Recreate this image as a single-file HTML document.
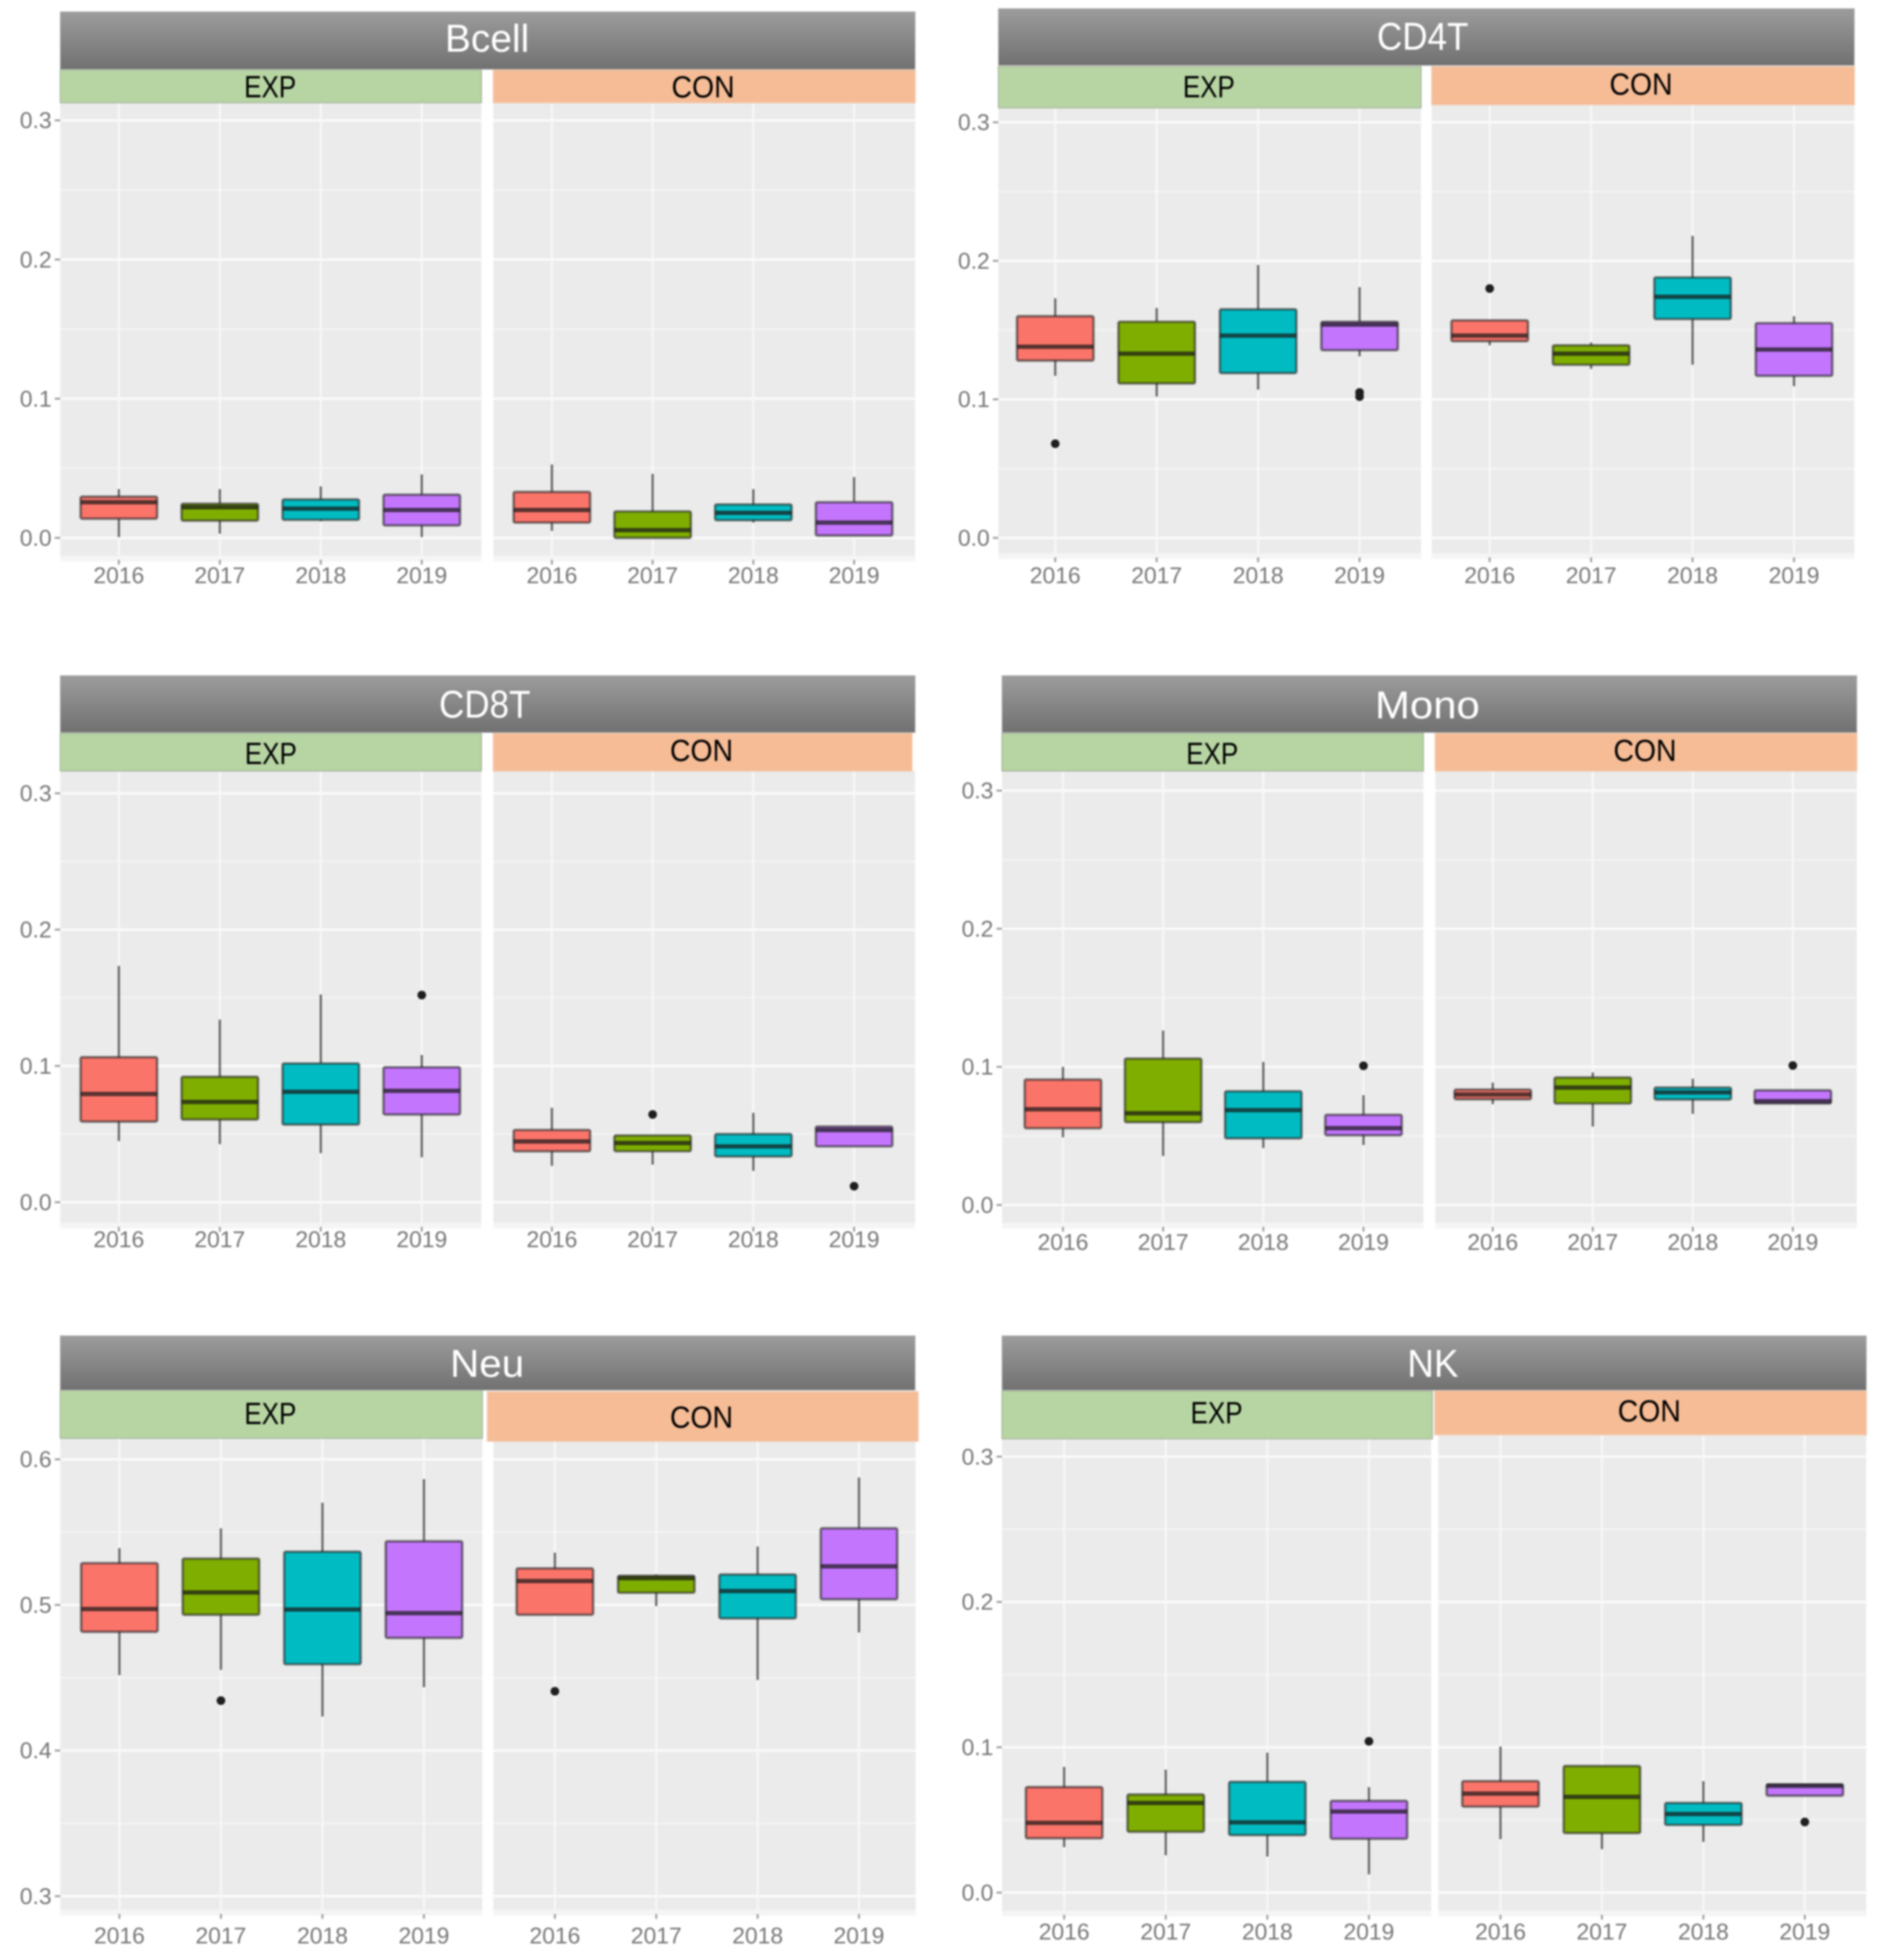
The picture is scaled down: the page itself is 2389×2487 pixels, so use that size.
<!DOCTYPE html>
<html lang="en">
<head>
<meta charset="utf-8">
<title>Cell type proportion boxplots by year and group</title>
<style>
  html, body { margin: 0; padding: 0; background: #fff; }
  #chart-root { display: block; width: 2389px; height: 2487px; filter: blur(1.15px); font-family: "Liberation Sans", sans-serif; }
</style>
</head>
<body>
<svg id="chart-root" xmlns="http://www.w3.org/2000/svg" width="2389" height="2487" viewBox="0 0 2389 2487">
  <defs>
    <linearGradient id="title-gradient" x1="0" y1="0" x2="0" y2="1">
      <stop offset="0" stop-color="#9c9c9c"/>
      <stop offset="1" stop-color="#717171"/>
    </linearGradient>
  </defs>
</svg>
<script>
const years = ['2016', '2017', '2018', '2019'];
const smallTickValues = [0, 0.1, 0.2, 0.3];
const smallTickLabels = ['0.0', '0.1', '0.2', '0.3'];
const neuTickValues = [0.3, 0.4, 0.5, 0.6];
const neuTickLabels = ['0.3', '0.4', '0.5', '0.6'];
const fillColors = ['#fb746a', '#7fae00', '#00bcc2', '#c376fd'];

const bcellExpHigh = [0.035, 0.035, 0.037, 0.0456];
const bcellExpQ3 = [0.0296, 0.0245, 0.0276, 0.031];
const bcellExpMedian = [0.0256, 0.022, 0.021, 0.020];
const bcellExpQ1 = [0.0138, 0.0124, 0.013, 0.009];
const bcellExpLow = [0.0006, 0.003, 0.012, 0.0006];
const bcellExpOutliers = [[], [], [], []];
const bcellConHigh = [0.0527, 0.046, 0.035, 0.0437];
const bcellConQ3 = [0.033, 0.019, 0.024, 0.0256];
const bcellConMedian = [0.020, 0.0056, 0.018, 0.011];
const bcellConQ1 = [0.011, 0, 0.0127, 0.0017];
const bcellConLow = [0.005, 0, 0.011, 0.0017];
const bcellConOutliers = [[], [], [], []];

const cd4tExpHigh = [0.173, 0.166, 0.197, 0.181];
const cd4tExpQ3 = [0.160, 0.156, 0.165, 0.156];
const cd4tExpMedian = [0.138, 0.133, 0.146, 0.154];
const cd4tExpQ1 = [0.128, 0.1115, 0.119, 0.1355];
const cd4tExpLow = [0.117, 0.102, 0.107, 0.131];
const cd4tExpOutliers = [[0.068], [], [], [0.105, 0.102]];
const cd4tConHigh = [0.157, 0.141, 0.218, 0.160];
const cd4tConQ3 = [0.157, 0.139, 0.188, 0.155];
const cd4tConMedian = [0.146, 0.133, 0.174, 0.136];
const cd4tConQ1 = [0.142, 0.125, 0.158, 0.117];
const cd4tConLow = [0.139, 0.122, 0.125, 0.1095];
const cd4tConOutliers = [[0.18], [], [], []];

const cd8tExpHigh = [0.1734, 0.134, 0.1524, 0.108];
const cd8tExpQ3 = [0.1064, 0.092, 0.1018, 0.099];
const cd8tExpMedian = [0.0794, 0.0736, 0.081, 0.0817];
const cd8tExpQ1 = [0.0592, 0.0607, 0.057, 0.0644];
const cd8tExpLow = [0.0449, 0.0426, 0.036, 0.033];
const cd8tExpOutliers = [[], [], [], [0.152]];
const cd8tConHigh = [0.0693, 0.049, 0.0656, 0.0555];
const cd8tConQ3 = [0.053, 0.049, 0.05, 0.0555];
const cd8tConMedian = [0.0446, 0.0434, 0.041, 0.053];
const cd8tConQ1 = [0.0374, 0.0374, 0.0336, 0.041];
const cd8tConLow = [0.0267, 0.0276, 0.023, 0.041];
const cd8tConOutliers = [[], [0.0644], [], [0.0118]];

const monoExpHigh = [0.1, 0.1263, 0.1036, 0.0795];
const monoExpQ3 = [0.0908, 0.106, 0.0823, 0.0653];
const monoExpMedian = [0.0693, 0.0664, 0.0687, 0.0556];
const monoExpQ1 = [0.0556, 0.06, 0.0483, 0.0505];
const monoExpLow = [0.049, 0.0355, 0.0412, 0.0434];
const monoExpOutliers = [[], [], [], [0.1008]];
const monoConHigh = [0.0886, 0.096, 0.0914, 0.083];
const monoConQ3 = [0.0835, 0.0923, 0.085, 0.083];
const monoConMedian = [0.08, 0.085, 0.0815, 0.0752];
const monoConQ1 = [0.0766, 0.0735, 0.0764, 0.0735];
const monoConLow = [0.073, 0.0568, 0.066, 0.0735];
const monoConOutliers = [[], [], [], [0.101]];

const neuExpHigh = [0.539, 0.5526, 0.5702, 0.5864];
const neuExpQ3 = [0.5287, 0.5318, 0.5365, 0.5437];
const neuExpMedian = [0.4972, 0.5086, 0.4969, 0.4944];
const neuExpQ1 = [0.4816, 0.4933, 0.4593, 0.4774];
const neuExpLow = [0.4518, 0.4554, 0.4234, 0.4435];
const neuExpOutliers = [[], [0.4343], [], []];
const neuConHigh = [0.5359, 0.5209, 0.5401, 0.5875];
const neuConQ3 = [0.5251, 0.52, 0.5209, 0.5526];
const neuConMedian = [0.5164, 0.5184, 0.5095, 0.5265];
const neuConQ1 = [0.4933, 0.5084, 0.4908, 0.5039];
const neuConLow = [0.4933, 0.4992, 0.4485, 0.4811];
const neuConOutliers = [[0.4407], [], [], []];

const nkExpHigh = [0.0865, 0.0846, 0.0963, 0.0726];
const nkExpQ3 = [0.0726, 0.0675, 0.0762, 0.0631];
const nkExpMedian = [0.048, 0.0617, 0.0483, 0.0558];
const nkExpQ1 = [0.0374, 0.0419, 0.0396, 0.0371];
const nkExpLow = [0.0313, 0.0257, 0.0248, 0.0126];
const nkExpOutliers = [[], [], [], [0.1041]];
const nkConHigh = [0.1005, 0.0871, 0.0767, 0.0745];
const nkConQ3 = [0.0767, 0.0871, 0.0617, 0.0745];
const nkConMedian = [0.0681, 0.0659, 0.0541, 0.0734];
const nkConQ1 = [0.0592, 0.041, 0.0466, 0.0667];
const nkConLow = [0.0368, 0.0299, 0.0349, 0.0667];
const nkConOutliers = [[], [], [], [0.0486]];

const SVG_NS = 'http://www.w3.org/2000/svg';
const root = document.getElementById('chart-root');

function make(tag, parent, attrs) {
  const node = document.createElementNS(SVG_NS, tag);
  for (const key in attrs) node.setAttribute(key, attrs[key]);
  parent.appendChild(node);
  return node;
}

function linearScale(v0, p0, v1, p1) {
  return function (v) { return p0 + (v - v0) * (p1 - p0) / (v1 - v0); };
}

function bandScale(first, step) {
  return function (i) { return first + i * step; };
}

function drawTitle(parent, key, text, box) {
  const bar = make('rect', parent, { x: box.x0, y: box.y0, width: box.x1 - box.x0, height: box.y1 - box.y0, fill: 'url(#title-gradient)', stroke: '#b0b0b0', 'stroke-width': 1 });
  
  
  const label = make('text', parent, { x: box.cx, y: box.cy + 17, 'text-anchor': 'middle', 'font-size': 49, fill: '#ffffff', textLength: box.textWidth, lengthAdjust: 'spacingAndGlyphs' });
  label.textContent = text;
  
  
}

function drawGroup(parent, key, groupKey, groupText, fill, border, layout, series, tickValues, tickLabels, yScale) {
  const group = make('g', parent, {});
  
  

  const background = make('rect', group, { x: layout.x0, y: layout.top, width: layout.x1 - layout.x0, height: layout.bottom - layout.top, fill: '#ebebeb' });
  
  

  const edge = make('rect', group, { x: layout.x0, y: layout.bottom, width: layout.x1 - layout.x0, height: 7, fill: '#f5f5f5' });
  
  

  for (let i = 0; i < tickValues.length; i++) {
    const py = yScale(tickValues[i]);
    if (i < tickValues.length - 1) {
      const mid = yScale((tickValues[i] + tickValues[i + 1]) / 2);
      const minor = make('line', group, { x1: layout.x0, x2: layout.x1, y1: mid, y2: mid, stroke: '#f5f5f5', 'stroke-width': 2 });
      
      
    }
    const major = make('line', group, { x1: layout.x0, x2: layout.x1, y1: py, y2: py, stroke: '#fbfbfb', 'stroke-width': 3 });
    
    
  }

  const xScale = bandScale(layout.first, layout.step);
  years.forEach(function (year, i) {
    const px = xScale(i);
    const grid = make('line', group, { x1: px, x2: px, y1: layout.top, y2: layout.bottom, stroke: '#f8f8f8', 'stroke-width': 2.6 });
    
    
    const tick = make('line', group, { x1: px, x2: px, y1: layout.bottom + 5, y2: layout.bottom + 11, stroke: '#a0a0a0', 'stroke-width': 2.5 });
    
    
    const label = make('text', group, { x: px, y: layout.labelY + 10, 'text-anchor': 'middle', 'font-size': 29, fill: '#777777' });
    label.textContent = year;
    
    
  });

  const strip = make('rect', group, { x: layout.stripX0, y: layout.stripY0, width: layout.stripX1 - layout.stripX0, height: layout.stripY1 - layout.stripY0, fill: fill, stroke: border, 'stroke-width': 1.5 });
  
  
  const stripLabel = make('text', group, { x: layout.labelCx, y: layout.labelCy + 14, 'text-anchor': 'middle', 'font-size': 39, fill: '#000000', textLength: groupKey === 'exp' ? 66 : 80, lengthAdjust: 'spacingAndGlyphs' });
  stripLabel.textContent = groupText;
  
  

  years.forEach(function (year, i) {
    const px = xScale(i);
    const halfWidth = 48.5;
    const mark = make('g', group, {});
    
    

    const upper = make('line', mark, { x1: px, x2: px, y1: yScale(series.high[i]), y2: yScale(series.q3[i]), stroke: '#666666', 'stroke-width': 2.8 });
    
    
    const lower = make('line', mark, { x1: px, x2: px, y1: yScale(series.q1[i]), y2: yScale(series.low[i]), stroke: '#666666', 'stroke-width': 2.8 });
    
    

    const body = make('rect', mark, { x: px - halfWidth, y: yScale(series.q3[i]), width: halfWidth * 2, height: yScale(series.q1[i]) - yScale(series.q3[i]), rx: 2, fill: fillColors[i], stroke: 'rgba(35,35,35,0.58)', 'stroke-width': 3.2 });
    
    
    const median = make('line', mark, { x1: px - halfWidth, x2: px + halfWidth, y1: yScale(series.median[i]), y2: yScale(series.median[i]), stroke: 'rgba(25,25,25,0.72)', 'stroke-width': 5.5 });
    
    

    series.outliers[i].forEach(function (value) {
      const dot = make('circle', mark, { cx: px, cy: yScale(value), r: 5.5, fill: '#1f1f1f' });
      
      
    });
  });
}

function drawYAxis(parent, key, left, tickValues, tickLabels, yScale) {
  const axis = make('g', parent, {});
  
  
  tickValues.forEach(function (value, i) {
    const py = yScale(value);
    const tick = make('line', axis, { x1: left - 7, x2: left, y1: py, y2: py, stroke: '#a0a0a0', 'stroke-width': 2.5 });
    
    
    const label = make('text', axis, { x: left - 11, y: py + 10, 'text-anchor': 'end', 'font-size': 29, fill: '#777777' });
    label.textContent = tickLabels[i];
    
    
  });
}

function drawFacet(f) {
  const g = make('g', root, {});
  
  
  const yScale = linearScale(f.tickValues[0], f.yBase, f.tickValues[3], f.yTop);
  drawYAxis(g, f.key, f.title.x0, f.tickValues, f.tickLabels, yScale);
  drawGroup(g, f.key, 'exp', 'EXP', '#b7d5a3', '#a9b9a0', f.exp, f.expSeries, f.tickValues, f.tickLabels, yScale);
  drawGroup(g, f.key, 'con', 'CON', '#f5bc96', '#f3c7a9', f.con, f.conSeries, f.tickValues, f.tickLabels, yScale);
  drawTitle(g, f.key, f.name, f.title);
}

drawFacet({
  key: 'bcell', name: 'Bcell', tickValues: smallTickValues, tickLabels: smallTickLabels, yBase: 682.5, yTop: 152.7,
  title: { x0: 76.5, x1: 1161, y0: 15, y1: 88, cx: 618, cy: 48.7, textWidth: 107 },
  exp: { x0: 76.5, x1: 610.7, top: 130, bottom: 705.4, first: 150.8, step: 128.1, labelY: 730.2, stripX0: 76.5, stripX1: 610.7, stripY0: 88.5, stripY1: 130.3, labelCx: 342.8, labelCy: 109.4 },
  con: { x0: 626, x1: 1161, top: 130, bottom: 705.4, first: 700.2, step: 127.8, labelY: 730.2, stripX0: 626, stripX1: 1161, stripY0: 88.5, stripY1: 130.3, labelCx: 892, labelCy: 109.4 },
  expSeries: { high: bcellExpHigh, q3: bcellExpQ3, median: bcellExpMedian, q1: bcellExpQ1, low: bcellExpLow, outliers: bcellExpOutliers },
  conSeries: { high: bcellConHigh, q3: bcellConQ3, median: bcellConMedian, q1: bcellConQ1, low: bcellConLow, outliers: bcellConOutliers }
});

drawFacet({
  key: 'cd4t', name: 'CD4T', tickValues: smallTickValues, tickLabels: smallTickLabels, yBase: 682.5, yTop: 155.2,
  title: { x0: 1266.7, x1: 2352.6, y0: 11, y1: 83, cx: 1805, cy: 45.8, textWidth: 116 },
  exp: { x0: 1266.7, x1: 1802.9, top: 136, bottom: 702.4, first: 1338.8, step: 128.7, labelY: 730, stripX0: 1266.7, stripX1: 1802.9, stripY0: 84.6, stripY1: 136.8, labelCx: 1533.7, labelCy: 109.4 },
  con: { x0: 1816.5, x1: 2352.6, top: 132, bottom: 702.4, first: 1890, step: 128.7, labelY: 730, stripX0: 1816.5, stripX1: 2352.6, stripY0: 84.6, stripY1: 132.8, labelCx: 2082, labelCy: 106 },
  expSeries: { high: cd4tExpHigh, q3: cd4tExpQ3, median: cd4tExpMedian, q1: cd4tExpQ1, low: cd4tExpLow, outliers: cd4tExpOutliers },
  conSeries: { high: cd4tConHigh, q3: cd4tConQ3, median: cd4tConMedian, q1: cd4tConQ1, low: cd4tConLow, outliers: cd4tConOutliers }
});

drawFacet({
  key: 'cd8t', name: 'CD8T', tickValues: smallTickValues, tickLabels: smallTickLabels, yBase: 1525.5, yTop: 1006.6,
  title: { x0: 76.5, x1: 1161, y0: 857.4, y1: 929.5, cx: 615, cy: 893.7, textWidth: 116 },
  exp: { x0: 76.5, x1: 610.7, top: 978, bottom: 1551.8, first: 150.8, step: 128.1, labelY: 1572.7, stripX0: 76.5, stripX1: 610.7, stripY0: 930.5, stripY1: 978.3, labelCx: 343.6, labelCy: 955.4 },
  con: { x0: 626, x1: 1161, top: 978, bottom: 1551.8, first: 700.2, step: 127.8, labelY: 1572.7, stripX0: 626, stripX1: 1157, stripY0: 930.5, stripY1: 978.3, labelCx: 890, labelCy: 951.4 },
  expSeries: { high: cd8tExpHigh, q3: cd8tExpQ3, median: cd8tExpMedian, q1: cd8tExpQ1, low: cd8tExpLow, outliers: cd8tExpOutliers },
  conSeries: { high: cd8tConHigh, q3: cd8tConQ3, median: cd8tConMedian, q1: cd8tConQ1, low: cd8tConLow, outliers: cd8tConOutliers }
});

drawFacet({
  key: 'mono', name: 'Mono', tickValues: smallTickValues, tickLabels: smallTickLabels, yBase: 1529, yTop: 1003.2,
  title: { x0: 1271.3, x1: 2355.7, y0: 857.4, y1: 929.5, cx: 1811, cy: 894.7, textWidth: 133 },
  exp: { x0: 1271.3, x1: 1805.9, top: 978, bottom: 1551.8, first: 1348.6, step: 127.1, labelY: 1576, stripX0: 1271.3, stripX1: 1805.9, stripY0: 930.5, stripY1: 978.3, labelCx: 1538, labelCy: 955.4 },
  con: { x0: 1821, x1: 2355.7, top: 978, bottom: 1551.8, first: 1893.9, step: 126.9, labelY: 1576, stripX0: 1821, stripX1: 2355.7, stripY0: 930.5, stripY1: 978.3, labelCx: 2087, labelCy: 951.4 },
  expSeries: { high: monoExpHigh, q3: monoExpQ3, median: monoExpMedian, q1: monoExpQ1, low: monoExpLow, outliers: monoExpOutliers },
  conSeries: { high: monoConHigh, q3: monoConQ3, median: monoConMedian, q1: monoConQ1, low: monoConLow, outliers: monoConOutliers }
});

drawFacet({
  key: 'neu', name: 'Neu', tickValues: neuTickValues, tickLabels: neuTickLabels, yBase: 2406, yTop: 1851.7,
  title: { x0: 76.5, x1: 1161, y0: 1695, y1: 1764, cx: 618, cy: 1730, textWidth: 94 },
  exp: { x0: 76.5, x1: 612, top: 1825, bottom: 2423.7, first: 151.5, step: 128.8, labelY: 2456, stripX0: 76.5, stripX1: 612, stripY0: 1764, stripY1: 1825, labelCx: 343, labelCy: 1793 },
  con: { x0: 626, x1: 1161.7, top: 1828, bottom: 2423.7, first: 704, step: 128.6, labelY: 2456, stripX0: 618.4, stripX1: 1164.8, stripY0: 1766, stripY1: 1828.7, labelCx: 890, labelCy: 1797.3 },
  expSeries: { high: neuExpHigh, q3: neuExpQ3, median: neuExpMedian, q1: neuExpQ1, low: neuExpLow, outliers: neuExpOutliers },
  conSeries: { high: neuConHigh, q3: neuConQ3, median: neuConMedian, q1: neuConQ1, low: neuConLow, outliers: neuConOutliers }
});

drawFacet({
  key: 'nk', name: 'NK', tickValues: smallTickValues, tickLabels: smallTickLabels, yBase: 2401.5, yTop: 1848.3,
  title: { x0: 1271.3, x1: 2367.8, y0: 1695, y1: 1764, cx: 1818, cy: 1730, textWidth: 65 },
  exp: { x0: 1271.3, x1: 1815.8, top: 1825, bottom: 2424.7, first: 1350.1, step: 128.9, labelY: 2451, stripX0: 1271.3, stripX1: 1817.3, stripY0: 1765, stripY1: 1825.6, labelCx: 1543.5, labelCy: 1792 },
  con: { x0: 1824.8, x1: 2367.8, top: 1820, bottom: 2424.7, first: 1903.7, step: 128.7, labelY: 2451, stripX0: 1820.3, stripX1: 2367.8, stripY0: 1765, stripY1: 1820.5, labelCx: 2092.5, labelCy: 1789.6 },
  expSeries: { high: nkExpHigh, q3: nkExpQ3, median: nkExpMedian, q1: nkExpQ1, low: nkExpLow, outliers: nkExpOutliers },
  conSeries: { high: nkConHigh, q3: nkConQ3, median: nkConMedian, q1: nkConQ1, low: nkConLow, outliers: nkConOutliers }
});
</script>
</body>
</html>
